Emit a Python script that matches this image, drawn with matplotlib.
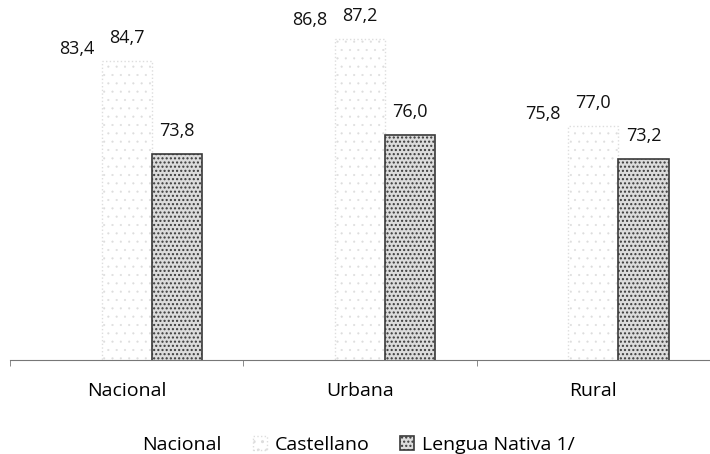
import numpy as np
import matplotlib.pyplot as plt

plt.rcParams["font.family"] = ["Open Sans", "DejaVu Sans"]

categories = ["Nacional", "Urbana", "Rural"]
series_names = ["Nacional", "Castellano", "Lengua Nativa 1/"]
nacional = [83.4, 86.8, 75.8]
castellano = [84.7, 87.2, 77.0]
lengua_nativa = [73.8, 76.0, 73.2]

fig = plt.figure(figsize=(7.1, 4.54), dpi=100)
ax = fig.add_axes([0.014, 0.207, 0.986, 0.793])

x = np.arange(len(categories))
w = 0.215

b1 = ax.bar(x - w, nacional, w, color="white", edgecolor="none",
            label=series_names[0])
b2 = ax.bar(x, castellano, w, color="white", edgecolor="#dddddd",
            linestyle=":", linewidth=1.0, hatch="..", label=series_names[1])
for p in b2:
    p.set_hatch_linewidth(0.3)
b3 = ax.bar(x + w, lengua_nativa, w, color="#dcdcdc", edgecolor="#3a3a3a",
            linewidth=1.2, hatch="....", label=series_names[2])

fmt = lambda v: f"{v:.1f}".replace(".", ",")
for bars, vals in [(b1, nacional), (b2, castellano), (b3, lengua_nativa)]:
    ax.bar_label(bars, labels=[fmt(v) for v in vals], padding=10,
                 fontsize=13, color="#111111")

ax.set_ylim(49.6, 91.8)
ax.set_xlim(-0.5, 2.5)
ax.set_yticks([])
ax.set_xticks(x)
ax.set_xticklabels(categories, fontsize=14)
ax.tick_params(axis="x", length=0, pad=16)
ax.set_xticks([-0.5, 0.5, 1.5, 2.5], minor=True)
ax.tick_params(axis="x", which="minor", length=4, color="#777777")
for s in ["top", "right", "left"]:
    ax.spines[s].set_visible(False)
ax.spines["bottom"].set_color("#777777")
ax.spines["bottom"].set_linewidth(0.8)

fig.legend(handles=[b1, b2, b3], loc="lower center", ncol=3,
           bbox_to_anchor=(0.49, -0.038), frameon=False, fontsize=14,
           handlelength=0.7, handleheight=0.7, columnspacing=1.6,
           handletextpad=0.4)

fig.savefig("out.png", dpi=100)
